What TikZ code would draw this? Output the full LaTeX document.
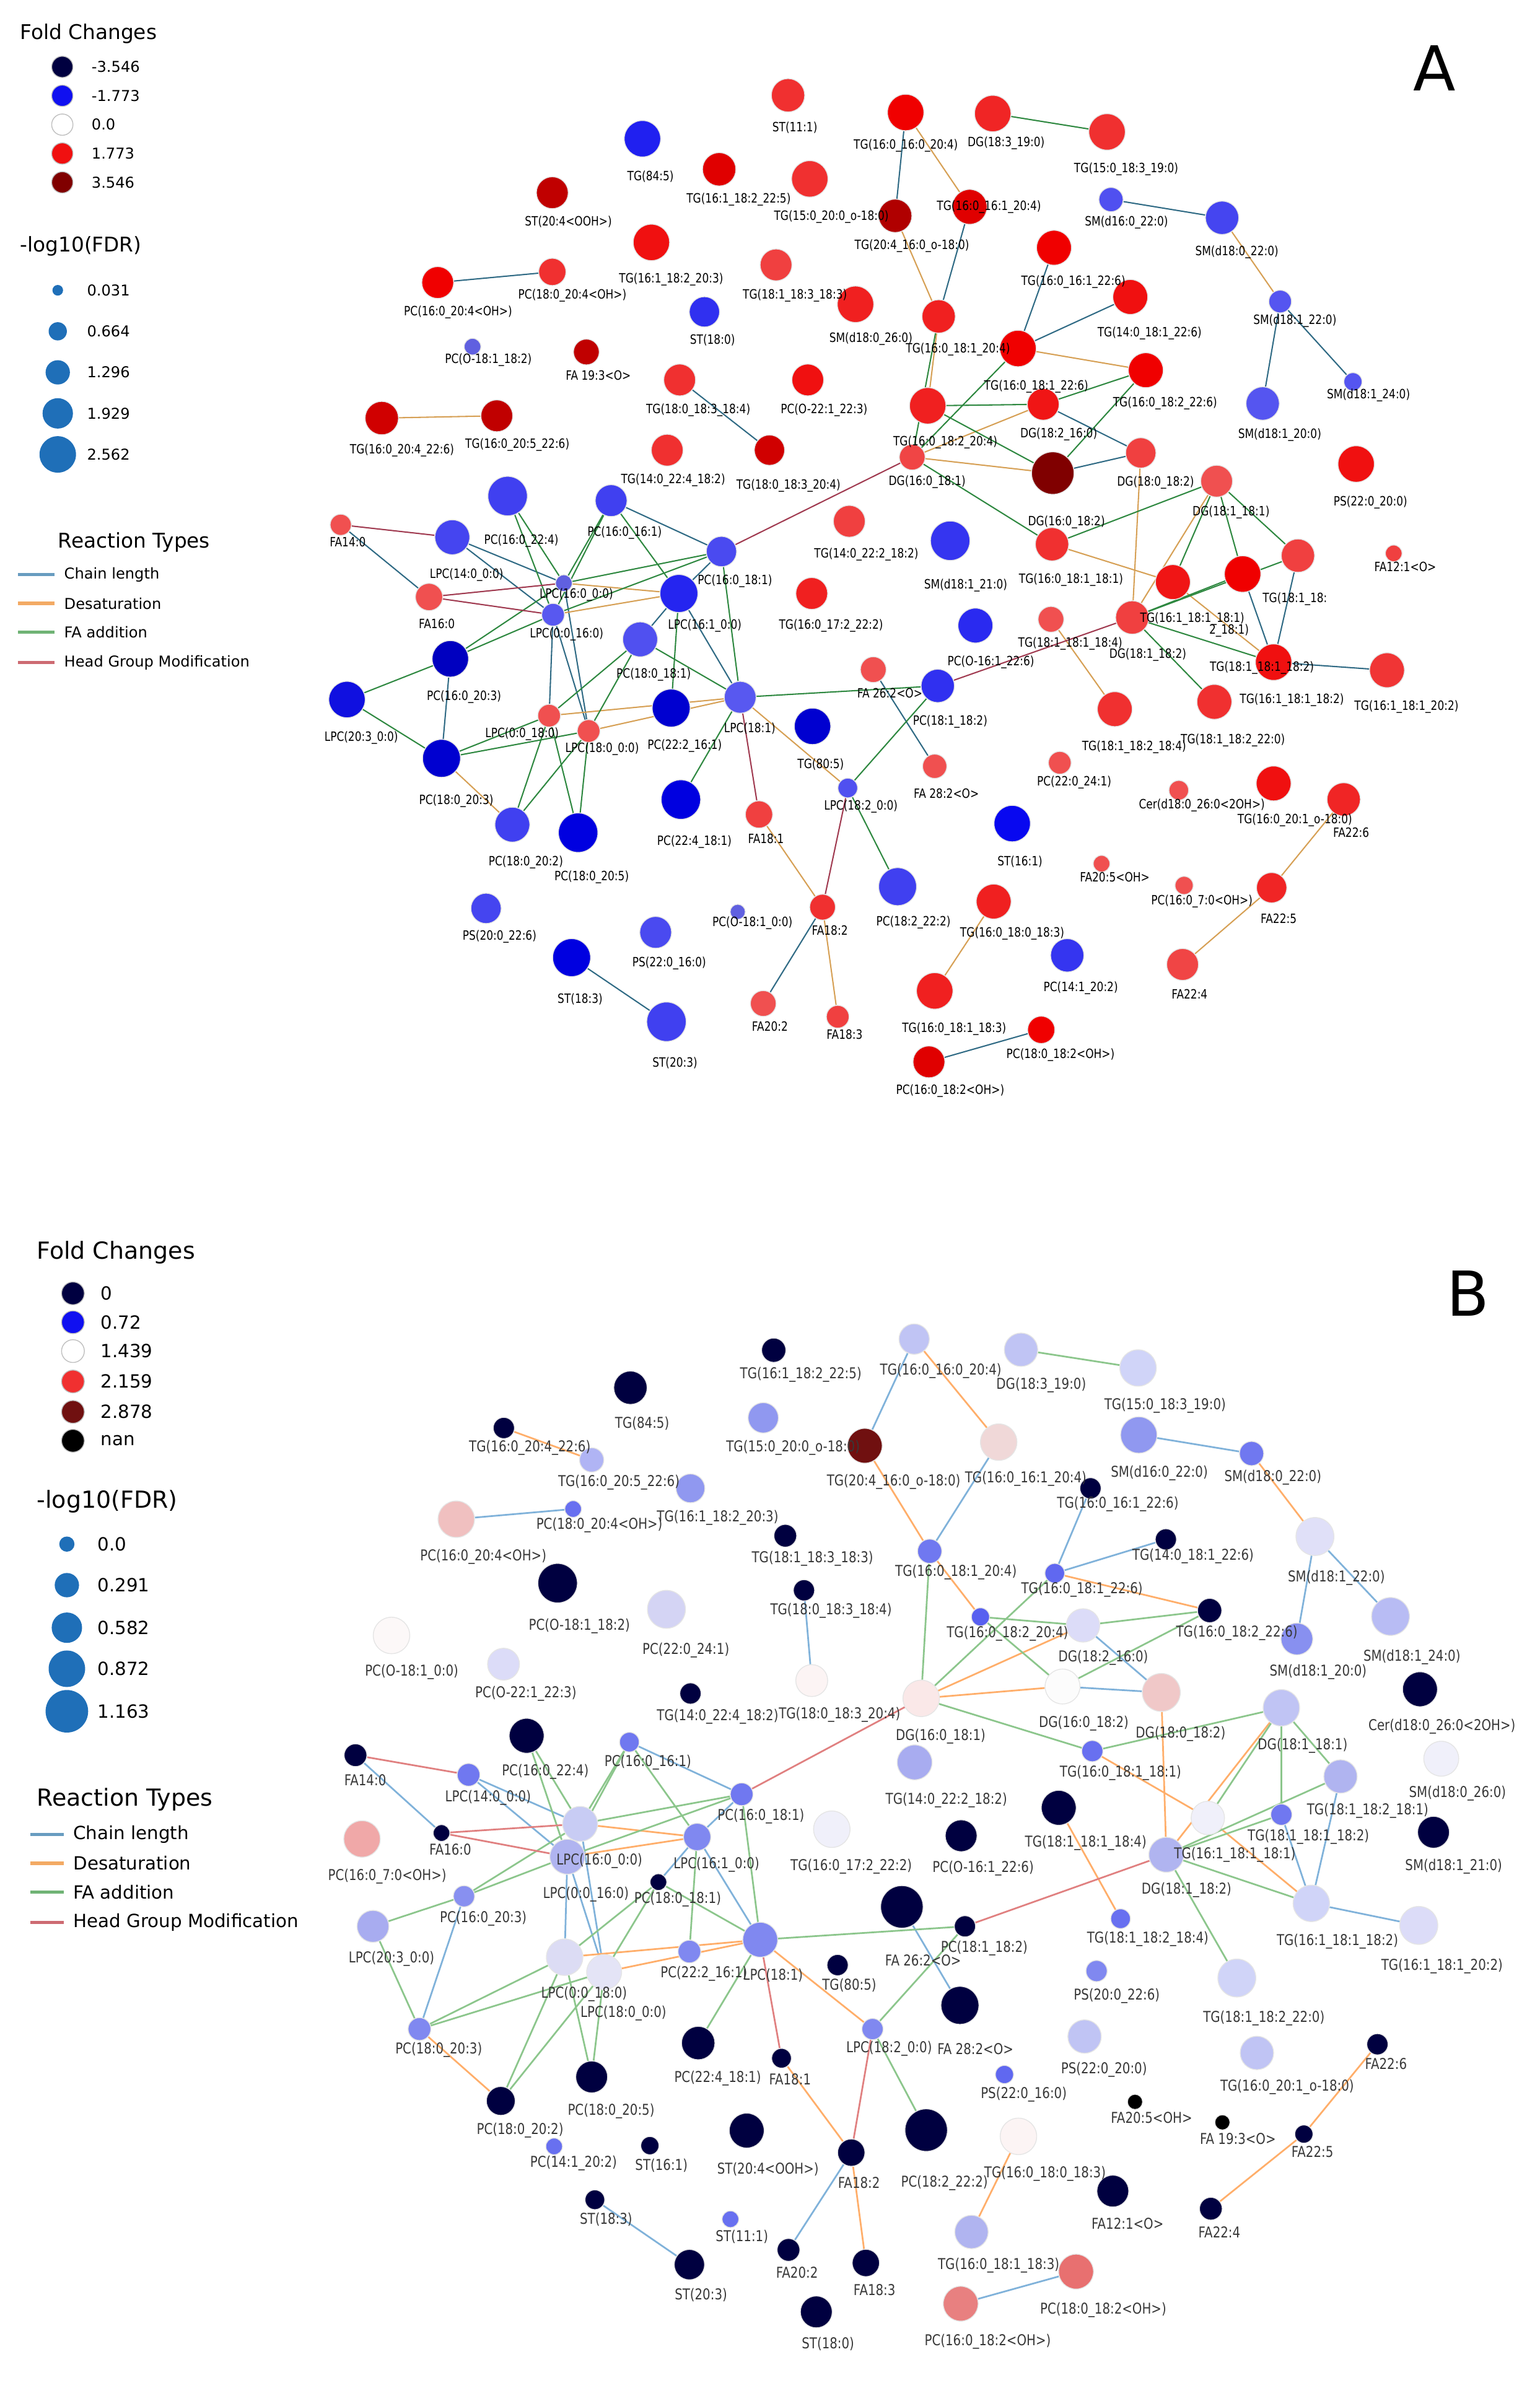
\documentclass[tikz,border=0pt]{standalone}
\usepackage{fontspec}
\setmainfont{DejaVu Sans}
\newfontfamily\lblfont[FakeStretch=0.82]{DejaVu Sans}
\usetikzlibrary{backgrounds}
\pgfdeclarelayer{labels}
\pgfsetlayers{background,main,labels}

\definecolor{acl}{HTML}{2F6A84}
\definecolor{ads}{HTML}{D6A055}
\definecolor{afa}{HTML}{2E8840}
\definecolor{ahg}{HTML}{A03A50}
\definecolor{bcl}{HTML}{80B2DA}
\definecolor{bds}{HTML}{FFAE6A}
\definecolor{bfa}{HTML}{8CC68C}
\definecolor{bhg}{HTML}{E08080}
\definecolor{sizeblue}{HTML}{1F6FB8}

\begin{document}
\begin{tikzpicture}[x=0.25mm, y=-0.25mm,
	lipid/.style = {circle, inner sep=0pt, draw=black!10, line width=0.4pt},
	lbl a/.style = {font=\lblfont\fontsize{6}{7}\selectfont, inner sep=0pt, text=black},
	lbl b/.style = {font=\lblfont\fontsize{7}{8}\selectfont, inner sep=0pt, text=black!78},
	key title/.style = {anchor=west, inner sep=0pt, font=\fontsize{9.5}{11}\selectfont},
	key title b/.style = {anchor=west, inner sep=0pt, font=\fontsize{11}{13}\selectfont},
	key text/.style = {anchor=west, inner sep=0pt, font=\fontsize{7}{8}\selectfont},
	key text b/.style = {anchor=west, inner sep=0pt, font=\fontsize{8.5}{10}\selectfont},
	panel letter/.style = {inner sep=0pt, font=\fontsize{29}{32}\selectfont}
]
\useasboundingbox (0,0) rectangle (1013,1568);

\foreach \nm/\x/\y/\rad/\col/\lx/\ly/\txt in {
	st111/518.5/62.7/11/F03030/523/83.8/{ST(11:1)},
	tg845/422.7/91.3/12/2020F0/428/116/{TG(84:5)},
	tg225/473.2/111.4/11/E00000/486/131.3/{TG(16:1\_18:2\_22:5)},
	tg15o/532.8/117.7/12/F03030/547/142.6/{TG(15:0\_20:0\_o-18:0)},
	tg20o/589/142/11/B00000/600/162/{TG(20:4\_16:0\_o-18:0)},
	tg1616/595.9/74/12/F00000/596/96/{TG(16:0\_16:0\_20:4)},
	dg183/653.2/74.7/12/F02525/662/94.3/{DG(18:3\_19:0)},
	tg153/728.4/86.8/12/F03030/741/111.4/{TG(15:0\_18:3\_19:0)},
	st204/363.4/126.8/10.5/C00000/374/145.9/{ST(20:4<OOH>)},
	tg203/428.6/159.5/12/F01010/441.6/184/{TG(16:1\_18:2\_20:3)},
	tg1833/510.6/174.3/10.5/F04040/523/194.6/{TG(18:1\_18:3\_18:3)},
	sm026/562.9/200.2/12/F02020/573/223/{SM(d18:0\_26:0)},
	st180/463.5/205.2/10/3030F0/468.8/223.7/{ST(18:0)},
	pc16oh/288/185.9/10.5/F00000/301.4/205.5/{PC(16:0\_20:4<OH>)},
	pc18oh/363.4/178.9/9/F03030/376.6/194.6/{PC(18:0\_20:4<OH>)},
	pco182/310.9/228.1/5.5/6060E0/321.3/236.8/{PC(O-18:1\_18:2)},
	fa193/385.8/231.6/8.5/C00000/393.7/246.8/{FA 19:3<O>},
	tg184/447.2/250/10.5/F03030/459.4/270/{TG(18:0\_18:3\_18:4)},
	pco221/531.5/250/10.5/F01010/542.2/270/{PC(O-22:1\_22:3)},
	tg2046/251.2/275.1/11/D00000/264.5/296.3/{TG(16:0\_20:4\_22:6)},
	tg2056/326.9/273.6/10.5/C00000/340.4/292.5/{TG(16:0\_20:5\_22:6)},
	tg3204/506.3/296.2/10/D00000/518.8/319.6/{TG(18:0\_18:3\_20:4)},
	tg224/439/296.2/10.5/F03030/442.9/316.1/{TG(14:0\_22:4\_18:2)},
	tg222/558.8/343/10.5/F04040/570/365/{TG(14:0\_22:2\_18:2)},
	tg172/534.1/390.5/10.5/F02020/546.8/411.6/{TG(16:0\_17:2\_22:2)},
	sm1622/731/131.3/8/5050F0/741.2/146.4/{SM(d16:0\_22:0)},
	sm1822/804.1/143.3/11/4545F0/813.8/166/{SM(d18:0\_22:0)},
	sm2122/842.3/198.4/7.5/5555F0/852/211.2/{SM(d18:1\_22:0)},
	sm2124/890.2/251.2/6/5555F0/900.4/260.2/{SM(d18:1\_24:0)},
	sm2120/830.8/265.5/11/5555F0/842/286/{SM(d18:1\_20:0)},
	tg1614/638/136.1/11.5/E00000/650.7/136.1/{TG(16:0\_16:1\_20:4)},
	tg1626/693.5/163/11.5/F00000/706.2/185.6/{TG(16:0\_16:1\_22:6)},
	tg1426/743.7/195.4/11.5/F01010/756.4/219.5/{TG(14:0\_18:1\_22:6)},
	tg1814/617.6/208.2/11/F02020/630.3/230.1/{TG(16:0\_18:1\_20:4)},
	tg1826/669.8/229.3/12/F00000/681.8/254.2/{TG(16:0\_18:1\_22:6)},
	tg2226/753.9/243.6/11.5/F00000/766.6/265.5/{TG(16:0\_18:2\_22:6)},
	dg182/686.4/266/10.5/F01515/696.6/285.7/{DG(18:2\_16:0)},
	tg2204/610.4/267/12/F02020/622/291/{TG(16:0\_18:2\_20:4)},
	dg161/600.2/300.8/8.5/F04545/610/317/{DG(16:0\_18:1)},
	dg162/692.7/311.3/14/800000/701.7/343.7/{DG(16:0\_18:2)},
	dg802/750.6/298/10/F04040/760.3/317.4/{DG(18:0\_18:2)},
	dg811/800.5/316.6/10.5/F05050/810/337/{DG(18:1\_18:1)},
	ps220/892.3/305.3/12/F01010/901.7/330.6/{PS(22:0\_20:0)},
	sm2121/625.2/355.8/13/3535F0/635.4/385.2/{SM(d18:1\_21:0)},
	tg1811/692.2/358.1/11/F03030/704.7/381.4/{TG(16:0\_18:1\_18:1)},
	fa121/917/364.1/5.5/F04040/924.6/373.1/{FA12:1<O>},
	tg8281/854/365.6/11/F04040/852/394.3/{TG(18:1\_18:},
	tg6111/771.7/383/11.5/F01515/784.5/407.1/{TG(16:1\_18:1\_18:1)},
	tg8112/817.6/377.7/12/F00000/830.3/439.5/{TG(18:1\_18:1\_18:2)},
	dg812/745/406.3/11/F04040/755.2/430.8/{DG(18:1\_18:2)},
	tg6112/838/435.7/12/F01010/850/460.6/{TG(16:1\_18:1\_18:2)},
	tg6120/912.6/441/11.5/F03535/925.4/465.1/{TG(16:1\_18:1\_20:2)},
	tg8220/799/461.8/11.5/F03030/811.2/487/{TG(18:1\_18:2\_22:0)},
	tg8284/733.5/466.6/11.5/F03030/746.2/491.5/{TG(18:1\_18:2\_18:4)},
	tg8184/691.5/407.5/8.5/F05050/704.2/423.7/{TG(18:1\_18:1\_18:4)},
	pco161/641.8/411.6/11.5/2A2AF0/652/435.7/{PC(O-16:1\_22:6)},
	pc1812/617/451.3/11/3030F0/625.2/475/{PC(18:1\_18:2)},
	fa262/574.6/440.6/8.5/F05050/585.5/456.1/{FA 26:2<O>},
	fa282/615/504.2/8/F05050/622.7/522/{FA 28:2<O>},
	pc2224/697.3/501.9/7.5/F05050/706.8/514.7/{PC(22:0\_24:1)},
	cer/775.6/520/6.5/F05050/790.8/529.8/{Cer(d18:0\_26:0<2OH>)},
	tg20o1/838/515.5/11.5/F01010/852/539.6/{TG(16:0\_20:1\_o-18:0)},
	fa226/884.1/526/11/F02525/889/547.6/{FA22:6},
	st161/666/541.9/12/0808F0/671.1/566.8/{ST(16:1)},
	fa205/724.8/568.3/5.5/F05050/733.5/577.3/{FA20:5<OH>},
	pc70oh/779.1/582.6/6/F05050/790.8/593.2/{PC(16:0\_7:0<OH>)},
	fa225/836.7/584.1/10/F02525/841.3/604.5/{FA22:5},
	fa224/778.1/634.6/10.5/F04545/782.7/654.2/{FA22:4},
	tg1803/653.8/593.2/11.5/F02020/666/614.3/{TG(16:0\_18:0\_18:3)},
	pc1420/702.2/628.6/11/3535F0/711.1/650/{PC(14:1\_20:2)},
	tg1813/615/652/12/F02020/627.8/676.9/{TG(16:0\_18:1\_18:3)},
	pc82oh/685.1/677.6/9/F00000/697.8/694.2/{PC(18:0\_18:2<OH>)},
	pc62oh/611.2/698.7/10.5/E00000/625.2/717.6/{PC(16:0\_18:2<OH>)},
	fa140/224.2/345.3/7/F05050/228.8/356.6/{FA14:0},
	pc1622/334/326.4/13/4040F0/343/355.8/{PC(16:0\_22:4)},
	pc1661/402.1/329.4/10.5/4040F0/411/350.5/{PC(16:0\_16:1)},
	lpc140/297.6/353.5/11.5/4545F0/307/378.4/{LPC(14:0\_0:0)},
	pc1681/474.7/362.9/10/4A4AF0/483.6/382.5/{PC(16:0\_18:1)},
	lpc160/371/383.7/5.5/6060E0/379.2/391.5/{LPC(16:0\_0:0)},
	fa160/282.3/392.8/9/F05050/287.4/410.6/{FA16:0},
	lpc161/446.7/390.5/12.5/2525F0/463.7/411.6/{LPC(16:1\_0:0)},
	lpc016/363.9/404.5/7.5/5858F0/372.8/417.6/{LPC(0:0\_16:0)},
	pc8081/421.2/420.7/11.5/5050F0/430.1/444/{PC(18:0\_18:1)},
	pc1603/296.3/433.5/12/0000C0/305.3/458.4/{PC(16:0\_20:3)},
	lpc203/228.3/460.3/12/1010E0/237.7/485.5/{LPC(20:3\_0:0)},
	lpc181/487/458.8/10.5/5858F0/493.3/479.5/{LPC(18:1)},
	pc2216/441.6/465.9/12.5/0000D0/450.5/490.8/{PC(22:2\_16:1)},
	lpc018/361.3/470.9/7.5/F05050/343.5/482.9/{LPC(0:0\_18:0)},
	lpc180/387.3/481/7.5/F05050/396.2/493/{LPC(18:0\_0:0)},
	tg805/534.6/477.9/12/0000D0/540/503/{TG(80:5)},
	pc8003/290.5/499/12.5/0000D0/300.2/527.1/{PC(18:0\_20:3)},
	pc8002/337.1/542.6/11.5/4040F0/346/567.5/{PC(18:0\_20:2)},
	pc8005/380.4/547.9/13/0000E0/389.3/577.3/{PC(18:0\_20:5)},
	pc2241/448/526.1/13/0000E0/456.9/554/{PC(22:4\_18:1)},
	fa181/499.4/535.9/9/F04040/504/551.7/{FA18:1},
	lpc182/557.8/518.5/6.5/5050F0/566.4/530.6/{LPC(18:2\_0:0)},
	pc2222/590.6/583.4/12.5/4040F0/601/607/{PC(18:2\_22:2)},
	fa182/541.2/596.9/8.5/F03030/546/612/{FA18:2},
	pco180/485.4/600/5/6060E0/495.1/607.5/{PC(O-18:1\_0:0)},
	ps2022/319.8/597.7/10/4545F0/328.7/616.5/{PS(20:0\_22:6)},
	ps2216/431.4/613.5/10.5/4A4AF0/440.3/633.9/{PS(22:0\_16:0)},
	st183/376.1/630.1/12.5/0000E0/381.7/657.3/{ST(18:3)},
	st203/438.5/672.3/13/4040F0/444.1/699.5/{ST(20:3)},
	fa202/502.2/660.3/8.5/F05050/506.6/675.3/{FA20:2},
	fa183/551.2/669/7.5/F04040/555.7/680.6/{FA18:3}
}{
	\edef\tmp{\noexpand\definecolor{fc}{HTML}{\col}}\tmp
	\node[lipid, fill=fc, minimum size=\rad*0.5mm] (a\nm) at (\x,\y) {};
	\begin{pgfonlayer}{labels}
		\node[lbl a] (a\nm-t) at (\lx,\ly) {\txt};
	\end{pgfonlayer}
}
\begin{pgfonlayer}{labels}
	\node[lbl a] (atg8281-u) at (808.7,414.9) {2\_18:1)};
\end{pgfonlayer}

\foreach \nm/\x/\y/\rad/\col/\lx/\ly/\txt in {
	st111/480.6/1460.2/5.5/6870F0/488.2/1471.7/{ST(11:1)},
	tg845/414.8/913.1/11/000040/422.5/936.4/{TG(84:5)},
	tg225/509.1/888.4/8/000040/526.9/904.5/{TG(16:1\_18:2\_22:5)},
	tg15o/502.2/932.9/10/9098F0/521.8/952.8/{TG(15:0\_20:0\_o-18:0)},
	tg20o/569/951.3/11.5/701010/588/975/{TG(20:4\_16:0\_o-18:0)},
	tg1616/601.5/881.1/10/C0C4F4/619/902/{TG(16:0\_16:0\_20:4)},
	dg183/671.8/888.1/11/C0C4F4/685.1/911.5/{DG(18:3\_19:0)},
	tg153/748.8/900.1/12/D0D4F8/766.6/924.7/{TG(15:0\_18:3\_19:0)},
	st204/491.3/1401.9/11.5/000040/505.3/1427.2/{ST(20:4<OOH>)},
	tg203/454.3/979.3/9.5/9098F0/472.2/998.8/{TG(16:1\_18:2\_20:3)},
	tg1833/516.7/1010.5/7.5/000040/534.6/1025.4/{TG(18:1\_18:3\_18:3)},
	sm026/948.3/1157.2/11.5/F0F0FA/959/1179.9/{SM(d18:0\_26:0)},
	st180/537.1/1521.2/10.5/000040/544.8/1542.2/{ST(18:0)},
	pc16oh/300.2/999.6/12/F0C0C0/318/1024.3/{PC(16:0\_20:4<OH>)},
	pc18oh/377.1/992.9/5.5/6870F0/394.4/1003.5/{PC(18:0\_20:4<OH>)},
	pco182/366.9/1041.7/13/000040/381.2/1069.8/{PC(O-18:1\_18:2)},
	fa193/804.3/1396.5/5/000000/814.5/1407.2/{FA 19:3<O>},
	tg184/529/1046.4/7/000040/546.8/1059.7/{TG(18:0\_18:3\_18:4)},
	pco221/331.3/1095/10.5/DCDCF8/346/1114.3/{PC(O-22:1\_22:3)},
	tg2046/331.5/939.6/7/000040/348.6/952.8/{TG(16:0\_20:4\_22:6)},
	tg2056/389.3/960.6/8/B0B4F4/407.2/975.4/{TG(16:0\_20:5\_22:6)},
	tg3204/534.1/1105.8/10.5/FCF4F4/552.4/1128.1/{TG(18:0\_18:3\_20:4)},
	tg224/454.3/1114.3/7/000040/472.2/1129.6/{TG(14:0\_22:4\_18:2)},
	tg222/601.8/1159.6/11.5/A8ACF0/622.7/1184.5/{TG(14:0\_22:2\_18:2)},
	tg172/547.3/1203.6/12/F0F0FA/560.1/1228.2/{TG(16:0\_17:2\_22:2)},
	sm1622/749.3/944.2/12/9098F0/762.8/969.2/{SM(d16:0\_22:0)},
	sm1822/823.5/956.4/8/7078F0/837.5/972/{SM(d18:0\_22:0)},
	sm2122/865.2/1011/12.5/E0E0F8/879.3/1038.3/{SM(d18:1\_22:0)},
	sm2124/914.9/1063.6/12.5/B8BCF4/929/1090.4/{SM(d18:1\_24:0)},
	sm2120/853.3/1078.4/10.5/8890F0/867.3/1100.3/{SM(d18:1\_20:0)},
	tg1614/657.1/948.9/12/F0D8D8/674.9/973.1/{TG(16:0\_16:1\_20:4)},
	tg1626/717.5/979.3/7/000040/735.5/989.5/{TG(16:0\_16:1\_22:6)},
	tg1426/767.1/1012.9/7/000040/785/1023.8/{TG(14:0\_18:1\_22:6)},
	tg1814/611.7/1020.7/8/7078F0/629/1034.7/{TG(16:0\_18:1\_20:4)},
	tg1826/694/1035.2/6.5/6068F0/711.9/1046.1/{TG(16:0\_18:1\_22:6)},
	tg2226/795.9/1059.7/8/000040/813.8/1074.5/{TG(16:0\_18:2\_22:6)},
	dg182/712.6/1069.5/11/DCDCF8/725.9/1090.6/{DG(18:2\_16:0)},
	tg2204/645.1/1063.9/6/5860F0/662.9/1074.8/{TG(16:0\_18:2\_20:4)},
	dg161/606.1/1117.5/12/FAE8E8/618.9/1142.4/{DG(16:0\_18:1)},
	dg162/699.1/1109.7/11.5/FCFCFC/713.1/1133.8/{DG(16:0\_18:2)},
	dg802/764.1/1113.6/12.5/F0C8C8/776.8/1140.9/{DG(18:0\_18:2)},
	dg811/843.1/1123.7/12/C0C4F4/857.1/1148.7/{DG(18:1\_18:1)},
	ps220/713.6/1340/11/C0C4F4/726.4/1361.7/{PS(22:0\_20:0)},
	sm2121/943.2/1205.6/10.5/000040/956.5/1228.2/{SM(d18:1\_21:0)},
	tg1811/718.7/1152.2/7/6870F0/737.3/1166.6/{TG(16:0\_18:1\_18:1)},
	fa121/732.2/1441.7/10.5/000040/741.9/1463.2/{FA12:1<O>},
	tg8281/882/1168.9/11/B0B4F0/899.9/1191.6/{TG(18:1\_18:2\_18:1)},
	tg6111/794.7/1196.2/11/F0F0FA/812.5/1220.4/{TG(16:1\_18:1\_18:1)},
	tg8112/843.1/1194/7/7078F0/860.9/1208.7/{TG(18:1\_18:1\_18:2)},
	dg812/767.4/1220.4/11.5/B0B4F0/780.7/1243.8/{DG(18:1\_18:2)},
	tg6112/862.8/1252.4/12/D0D4F8/880/1277.4/{TG(16:1\_18:1\_18:2)},
	tg6120/933.5/1266.9/12.5/DCDCF8/948.8/1293.7/{TG(16:1\_18:1\_20:2)},
	tg8220/813.8/1301.5/12.5/D0D4F8/831.6/1328/{TG(18:1\_18:2\_22:0)},
	tg8284/737.3/1262.5/6.5/6870F0/755.2/1275.8/{TG(18:1\_18:2\_18:4)},
	tg8184/696.6/1189.5/11.5/000040/714.4/1212.6/{TG(18:1\_18:1\_18:4)},
	pco161/632.4/1207.9/10.5/000040/646.9/1229.5/{PC(O-16:1\_22:6)},
	pc1812/634.9/1267.5/7/000040/647.6/1282/{PC(18:1\_18:2)},
	fa262/593.4/1254.7/14/000040/607.4/1289.8/{FA 26:2<O>},
	fa282/631.6/1319.5/12.5/000040/641.8/1348.2/{FA 28:2<O>},
	pc2224/438.5/1058.9/12.5/D4D4F4/451.3/1085.7/{PC(22:0\_24:1)},
	cer/934.3/1111.5/11.5/000040/948.8/1136.2/{Cer(d18:0\_26:0<2OH>)},
	tg20o1/827/1350.8/11/C0C4F4/846.9/1373.2/{TG(16:0\_20:1\_o-18:0)},
	fa226/906.3/1345.1/7/000040/911.9/1358.1/{FA22:6},
	st161/427.6/1411.8/6/000040/435.2/1424.9/{ST(16:1)},
	fa205/746.8/1383/5/000000/757.7/1393.4/{FA20:5<OH>},
	pc70oh/238.2/1210/12/F0A8A8/254.8/1234.5/{PC(16:0\_7:0<OH>)},
	fa225/857.9/1404.2/6/000040/863.5/1415.7/{FA22:5},
	fa224/796.7/1453.3/7.5/000040/802.3/1468.6/{FA22:4},
	tg1803/670.1/1405.7/12/FCF4F4/687.6/1430.2/{TG(16:0\_18:0\_18:3)},
	pc1420/364.6/1412.3/5.5/6870F0/377.4/1423.3/{PC(14:1\_20:2)},
	tg1813/639.2/1468.6/11/B0B4F0/657.1/1490.8/{TG(16:0\_18:1\_18:3)},
	pc82oh/708/1494.7/11.5/E87070/725.9/1520/{PC(18:0\_18:2<OH>)},
	pc62oh/632.1/1515.8/11.5/E88080/649.9/1540.7/{PC(16:0\_18:2<OH>)},
	fa140/233.9/1154.9/7.5/000040/240.3/1171.3/{FA14:0},
	pc1622/346.5/1142.1/11.5/000040/358.8/1165.8/{PC(16:0\_22:4)},
	pc1661/414.1/1146.3/6.5/7078F0/426.3/1159.6/{PC(16:0\_16:1)},
	lpc140/308.3/1167.8/7.5/7078F0/321.1/1182.7/{LPC(14:0\_0:0)},
	pc1681/488/1180.6/7.5/7078F0/500.7/1195.1/{PC(16:0\_18:1)},
	lpc160/381.7/1200.1/11.5/C8CCF4/394.4/1224.3/{LPC(16:0\_0:0)},
	fa160/290.5/1206.1/5.5/000040/296.3/1217/{FA16:0},
	lpc161/458.7/1208.7/9/8088F0/471.4/1227/{LPC(16:1\_0:0)},
	lpc016/373.3/1221.7/11.5/B0B4F0/385.5/1246.6/{LPC(0:0\_16:0)},
	pc8081/433.2/1238.4/5.5/000040/445.9/1249.7/{PC(18:0\_18:1)},
	pc1603/305.3/1247.7/7/8890F0/318/1262.2/{PC(16:0\_20:3)},
	lpc203/245.4/1267.5/10.5/A8ACF0/257.6/1288.7/{LPC(20:3\_0:0)},
	lpc181/500.2/1276.3/11.5/8088F0/508.6/1299.7/{LPC(18:1)},
	pc2216/453.6/1284.1/7.5/8088F0/463.2/1298.7/{PC(22:2\_16:1)},
	lpc018/371.5/1287.8/12/DCDCF4/384.3/1312.1/{LPC(0:0\_18:0)},
	lpc180/397.5/1297.6/11.5/E4E4F6/410.2/1324.6/{LPC(18:0\_0:0)},
	tg805/551.1/1293/7/000040/558.8/1306.2/{TG(80:5)},
	pc8003/276/1335.1/7.5/8088F0/288.7/1348.9/{PC(18:0\_20:3)},
	pc8002/329.5/1382.4/9.5/000040/342.2/1401.9/{PC(18:0\_20:2)},
	pc8005/389.3/1366.6/10.5/000040/402.1/1389.3/{PC(18:0\_20:5)},
	pc2241/459.4/1344.3/11/000040/472.2/1367.4/{PC(22:4\_18:1)},
	fa181/514.2/1354.3/6.5/000040/519.8/1368.1/{FA18:1},
	lpc182/574.1/1335.1/7/8088F0/585/1348/{LPC(18:2\_0:0)},
	pc2222/609.4/1401.6/14/000040/621.4/1436.4/{PC(18:2\_22:2)},
	fa182/560.1/1416.4/9/000040/565.2/1436.4/{FA18:2},
	pco180/257.6/1076.1/12/FCF8F8/270.9/1100.3/{PC(O-18:1\_0:0)},
	ps2022/721.5/1296.9/7/8088F0/734.8/1313.2/{PS(20:0\_22:6)},
	ps2216/660.9/1365/6/6068F0/673.6/1378.1/{PS(22:0\_16:0)},
	st183/391.4/1447.4/6.5/000040/398.8/1460.2/{ST(18:3)},
	st203/453.6/1490.1/10/000040/461.2/1510/{ST(20:3)},
	fa202/518.8/1480.4/7.5/000040/524.4/1495.4/{FA20:2},
	fa183/569.7/1489/9/000040/575.4/1506.6/{FA18:3}
}{
	\edef\tmp{\noexpand\definecolor{fc}{HTML}{\col}}\tmp
	\node[lipid, fill=fc, minimum size=\rad*0.5mm] (b\nm) at (\x,\y) {};
	\begin{pgfonlayer}{labels}
		\node[lbl b] (b\nm-t) at (\lx,\ly) {\txt};
	\end{pgfonlayer}
}

\begin{scope}[on background layer]
\foreach \p/\lw in {a/0.6pt, b/0.8pt}{
	\foreach \u/\v/\k in {
		pc16oh/pc18oh/cl, tg184/tg3204/cl, tg1616/tg20o/cl, tg1614/tg1814/cl,
		tg1626/tg1826/cl, tg1426/tg1826/cl, sm1622/sm1822/cl, sm2122/sm2124/cl,
		sm2122/sm2120/cl, dg162/dg802/cl, dg182/dg802/cl, tg8112/tg6112/cl,
		tg8281/tg6112/cl, tg6112/tg6120/cl, fa262/fa282/cl, fa140/fa160/cl,
		lpc140/lpc160/cl, lpc140/lpc016/cl, pc1661/pc1681/cl, pc1681/lpc161/cl,
		pc8081/lpc161/cl, lpc161/lpc181/cl, pc1603/pc8003/cl, lpc016/lpc018/cl,
		lpc016/lpc180/cl, lpc160/lpc180/cl, st183/st203/cl, fa182/fa202/cl,
		pc82oh/pc62oh/cl,
		tg2046/tg2056/ds, tg1616/tg1614/ds, tg20o/tg1814/ds, tg1826/tg2226/ds,
		tg1814/tg2204/ds, sm1822/sm2122/ds, dg182/dg161/ds, dg161/dg162/ds,
		dg802/dg812/ds, dg811/dg812/ds, tg1811/tg6111/ds, tg6111/tg6112/ds,
		tg8184/tg8284/ds, lpc160/lpc161/ds, lpc016/lpc161/ds, lpc018/lpc181/ds,
		lpc180/lpc181/ds, lpc181/lpc182/ds, fa181/fa182/ds, fa182/fa183/ds,
		pc8003/pc8002/ds, tg1803/tg1813/ds, fa226/fa225/ds, fa225/fa224/ds,
		dg183/tg153/fa, tg1814/dg161/fa, tg1826/dg161/fa, tg2204/dg182/fa,
		dg182/tg2226/fa, tg2204/dg162/fa, tg2226/dg162/fa, dg161/tg1811/fa,
		tg1811/dg811/fa, dg811/tg6111/fa, dg811/tg8112/fa, dg811/tg8281/fa,
		tg8281/dg812/fa, tg8112/dg812/fa, dg812/tg6112/fa, dg812/tg8220/fa,
		lpc181/pc1812/fa, pc1812/lpc182/fa, lpc182/pc2222/fa, pc1622/lpc160/fa,
		pc1622/lpc016/fa, pc1661/lpc160/fa, pc1661/lpc016/fa, pc1661/lpc161/fa,
		pc1681/lpc160/fa, pc1681/lpc016/fa, pc1681/lpc181/fa, lpc160/pc1603/fa,
		lpc016/pc1603/fa, lpc203/pc1603/fa, lpc203/pc8003/fa, lpc018/pc8003/fa,
		lpc180/pc8003/fa, pc8081/lpc018/fa, pc8081/lpc180/fa, pc8081/lpc181/fa,
		lpc161/pc2216/fa, lpc018/pc8002/fa, lpc180/pc8002/fa, lpc018/pc8005/fa,
		lpc180/pc8005/fa, lpc181/pc2241/fa,
		fa140/lpc140/hg, fa160/lpc160/hg, fa160/lpc016/hg, pc1681/dg161/hg,
		pc1812/dg812/hg, lpc181/fa181/hg, lpc182/fa182/hg}
		\draw[draw=\p\k, line width=\lw] (\p\u) -- (\p\v);
}
\end{scope}

\node[key title] (afc) at (13,22) {Fold Changes};
\foreach \yy/\col/\txt [count=\i] in {44/000040/-3.546, 63/1010F0/-1.773, 82/FFFFFF/0.0, 101/F01010/1.773, 120/800000/3.546}{
	\edef\tmp{\noexpand\definecolor{fc}{HTML}{\col}}\tmp
	\node[lipid, draw=black!25, fill=fc, minimum size=14*0.25mm] (afc\i) at (41,\yy) {};
	\node[key text] (afc\i-t) at (60,\yy) {\txt};
}
\node[key title] (afdr) at (13,162) {-log10(FDR)};
\foreach \yy/\rad/\txt [count=\i] in {191/3.5/0.031, 218/6/0.664, 245/8/1.296, 272/10/1.929, 299/12/2.562}{
	\node[circle, inner sep=0pt, fill=sizeblue, minimum size=\rad*0.5mm] (afdr\i) at (38,\yy) {};
	\node[key text] (afdr\i-t) at (57,\yy) {\txt};
}
\node[key title] (art) at (38,357) {Reaction Types};
\foreach \yy/\k/\txt [count=\i] in {378/cl/Chain length, 397/ds/Desaturation, 416/fa/FA addition, 436/hg/Head Group Modification}{
	\draw[draw=b\k!70!a\k, line width=1.6pt] (12,\yy) -- (36,\yy);
	\node[key text] (art\i) at (42,\yy) {\txt};
}
\node[panel letter] (pa) at (944,45) {A};

\node[key title b] (bfc) at (24,824) {Fold Changes};
\foreach \yy/\col/\txt [count=\i] in {851/000040/0, 870/1010F0/0.72, 889/FFFFFF/1.439, 909/F03030/2.159, 929/701010/2.878, 948/000000/nan}{
	\edef\tmp{\noexpand\definecolor{fc}{HTML}{\col}}\tmp
	\node[lipid, draw=black!25, fill=fc, minimum size=15*0.25mm] (bfc\i) at (48,\yy) {};
	\node[key text b] (bfc\i-t) at (66,\yy) {\txt};
}
\node[key title b] (bfdr) at (24,988) {-log10(FDR)};
\foreach \yy/\rad/\txt [count=\i] in {1016/5/0.0, 1043/8/0.291, 1071/10/0.582, 1098/12/0.872, 1126/14/1.163}{
	\node[circle, inner sep=0pt, fill=sizeblue, minimum size=\rad*0.5mm] (bfdr\i) at (44,\yy) {};
	\node[key text b] (bfdr\i-t) at (64,\yy) {\txt};
}
\node[key title b] (brt) at (24,1184) {Reaction Types};
\foreach \yy/\k/\txt [count=\i] in {1207/cl/Chain length, 1226/ds/Desaturation, 1245/fa/FA addition, 1265/hg/Head Group Modification}{
	\draw[draw=b\k!70!a\k, line width=1.6pt] (20,\yy) -- (42,\yy);
	\node[key text b] (brt\i) at (48,\yy) {\txt};
}
\node[panel letter] (pb) at (966,851) {B};
\end{tikzpicture}
\end{document}
